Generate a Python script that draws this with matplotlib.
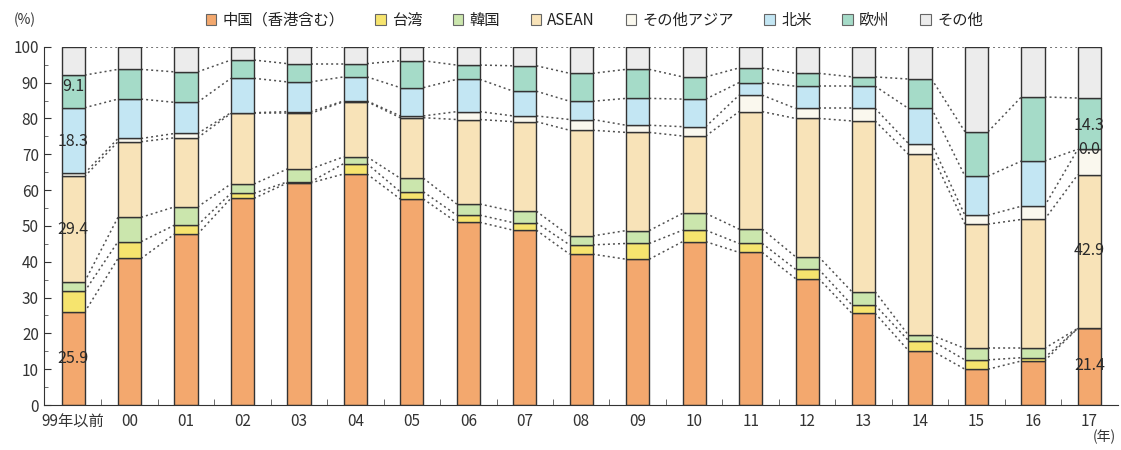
import numpy as np
import matplotlib
matplotlib.use("Agg")
import matplotlib.pyplot as plt
from matplotlib.patches import Patch

plt.rcParams['font.family'] = ['Noto Sans CJK JP', 'DejaVu Sans']

# data (% share per year)
years = ['99年以前', '00', '01', '02', '03', '04', '05', '06', '07', '08',
         '09', '10', '11', '12', '13', '14', '15', '16', '17']
china = [25.9, 40.9, 47.7, 57.7, 62.0, 64.5, 57.5, 51.0, 48.8, 42.1,
         40.7, 45.6, 42.6, 35.3, 25.6, 15.2, 10.0, 12.3, 21.4]
taiwan = [5.8, 4.7, 2.5, 1.4, 0.3, 2.9, 2.0, 2.0, 2.1, 2.6,
          4.4, 3.2, 2.5, 2.6, 2.3, 2.8, 2.6, 0.9, 0.0]
korea = [2.7, 6.8, 5.1, 2.6, 3.6, 1.9, 3.8, 3.1, 3.2, 2.5,
         3.6, 4.7, 4.0, 3.5, 3.7, 1.5, 3.2, 2.6, 0.0]
asean = [29.4, 21.1, 19.3, 19.7, 15.5, 15.4, 16.9, 23.6, 25.0, 29.5,
         27.4, 21.6, 32.8, 38.6, 47.7, 50.5, 34.7, 36.0, 42.9]
other_asia = [0.9, 0.9, 1.2, 0.2, 0.5, 0.2, 0.5, 2.2, 1.6, 3.0,
              2.0, 2.6, 4.6, 2.8, 3.5, 3.0, 2.5, 3.7, 7.1]
n_america = [18.3, 11.0, 8.7, 9.6, 8.3, 6.7, 7.9, 9.0, 6.9, 5.1,
             7.5, 7.7, 3.5, 6.2, 6.2, 9.8, 10.9, 12.6, 0.0]
europe = [9.1, 8.3, 8.5, 5.1, 5.1, 3.7, 7.5, 4.0, 7.1, 7.8,
          8.1, 6.2, 4.1, 3.6, 2.6, 8.2, 12.4, 17.9, 14.3]
other = [7.9, 6.3, 7.0, 3.7, 4.7, 4.7, 3.9, 5.1, 5.3, 7.4,
         6.3, 8.4, 5.9, 7.4, 8.4, 9.0, 23.7, 14.0, 14.3]

names = ['中国（香港含む）', '台湾', '韓国', 'ASEAN', 'その他アジア', '北米', '欧州', 'その他']
colors = ['#f3a86e', '#f6e46e', '#cbe6ad', '#f8e3b8', '#faf8ee', '#c3e6f3', '#a5dbc8', '#ececec']

# labels shown on first and last bar
first_labels = [(25.9, 13), (29.4, 49), (18.3, 73.5), (9.1, 89)]
last_labels = [(21.4, 11), (42.9, 43), (0.0, 71.2), (14.3, 78)]

series = [china, taiwan, korea, asean, other_asia, n_america, europe, other]
data = np.array(series)
cum = np.cumsum(data, axis=0)
x = np.arange(len(years))
w = 0.41

fig = plt.figure(figsize=(11.21, 4.5), dpi=100)
ax = fig.add_axes([0.039, 0.10, 0.958, 0.796])

bottom = np.zeros(len(years))
for vals, c in zip(data, colors):
    ax.bar(x, vals, w, bottom=bottom, color=c, edgecolor='#333333', linewidth=1.0, zorder=2)
    bottom += vals

# dotted connectors between bars
for k in range(cum.shape[0]):
    for i in range(len(years) - 1):
        ax.plot([x[i] + w / 2, x[i + 1] - w / 2], [cum[k, i], cum[k, i + 1]],
                ls=(0, (1.3, 2.0)), color='#505050', lw=1.1, zorder=1)

for v, y in first_labels:
    ax.text(x[0], y, f'{v:.1f}', ha='center', va='center', fontsize=11.5, color='#2a2a2a', zorder=3)
for v, y in last_labels:
    ax.text(x[-1], y, f'{v:.1f}', ha='center', va='center', fontsize=11.5, color='#2a2a2a', zorder=3)

ax.set_xlim(-0.52, 18.5)
ax.set_ylim(0, 100)
ax.set_yticks(np.arange(0, 101, 10))
ax.set_yticks(np.arange(5, 100, 10), minor=True)
ax.set_xticks(x)
ax.set_xticklabels(years)
ax.set_xticks(x[:-1] + 0.5, minor=True)
ax.tick_params(axis='x', which='major', length=0, labelsize=11, pad=6, colors='#333333')
ax.tick_params(axis='x', which='minor', length=4, direction='in', color='#555555')
ax.tick_params(axis='y', which='major', length=5, direction='in', labelsize=11, colors='#333333')
ax.tick_params(axis='y', which='minor', length=3, direction='in', color='#555555')
ax.spines['top'].set_visible(False)
ax.spines['right'].set_visible(False)
ax.spines['left'].set_color('#333333')
ax.spines['bottom'].set_color('#333333')

fig.text(0.012, 0.955, '(%)', fontsize=10, color='#333333', va='center')
fig.text(0.985, 0.028, '(年)', fontsize=10, color='#333333', ha='center', va='center')

handles = [Patch(facecolor=c, edgecolor='#666666', linewidth=0.8) for c in colors]
fig.legend(handles, names, loc='center', bbox_to_anchor=(0.53, 0.955), ncol=8, frameon=False,
           fontsize=11, handlelength=0.7, handleheight=0.7, handletextpad=0.4, columnspacing=2.0,
           labelcolor='#222222')

fig.savefig('out.png', dpi=100)
